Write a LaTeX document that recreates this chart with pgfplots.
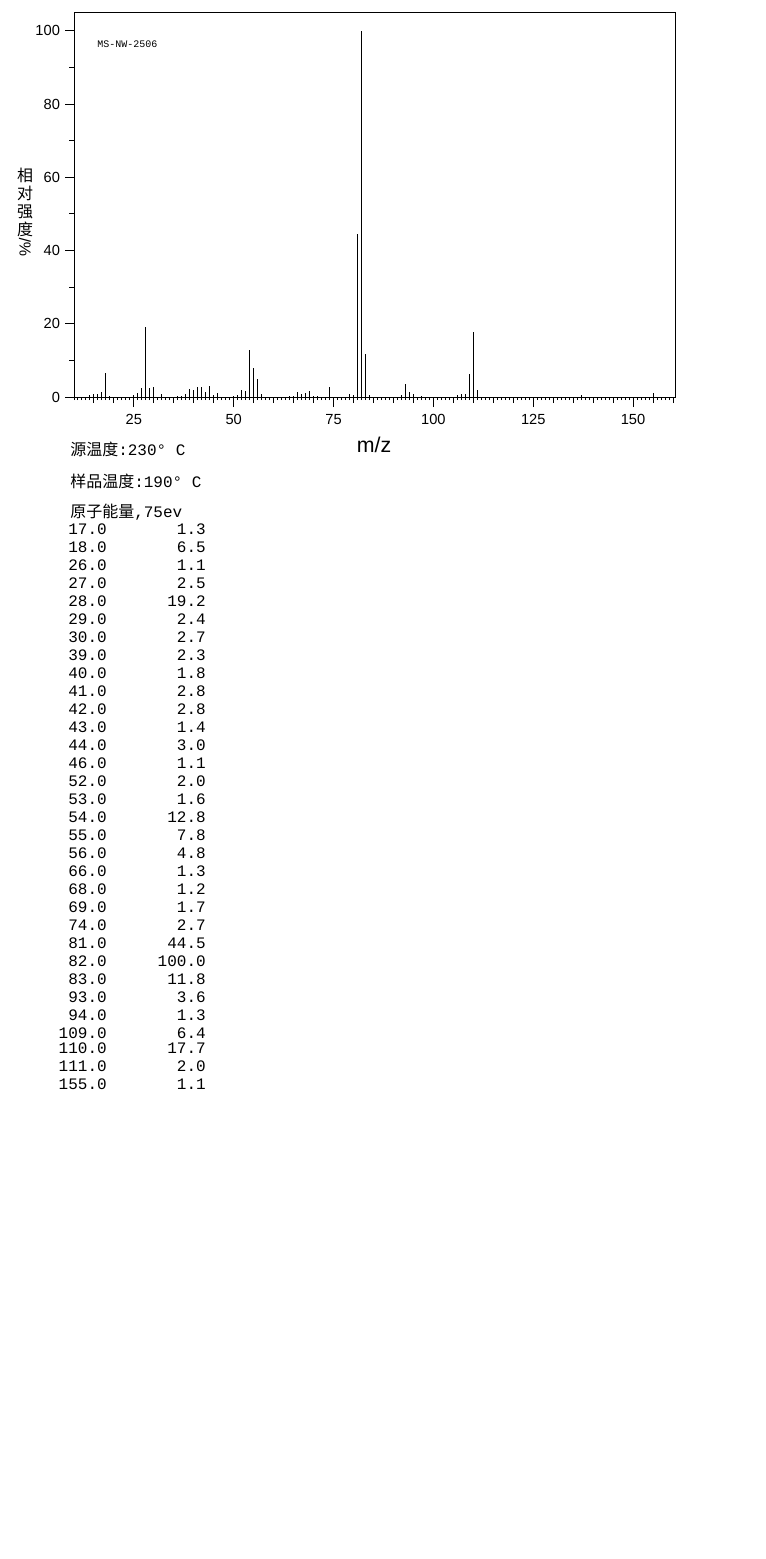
\documentclass[border=0pt]{standalone}
\usepackage{fontspec}
\setmainfont{Liberation Sans}
\setsansfont{Liberation Sans}
\setmonofont{Liberation Mono}
\newfontfamily\cjk{Noto Sans CJK SC}
\usepackage{pgfplots}
\pgfplotsset{compat=1.18}

\pgfplotstableread{
mz   int
14   0.5
15   0.7
16   0.7
17   1.3
18   6.5
19   0.3
25   0.5
26   1.1
27   2.5
28   19.2
29   2.4
30   2.7
32   0.8
36   0.4
37   0.4
38   0.9
39   2.3
40   1.8
41   2.8
42   2.8
43   1.4
44   3.0
45   0.5
46   1.1
50   0.4
51   0.5
52   2.0
53   1.6
54   12.8
55   7.8
56   4.8
57   0.9
64   0.4
65   0.4
66   1.3
67   0.7
68   1.2
69   1.7
70   0.3
71   0.3
74   2.7
79   0.8
80   0.5
81   44.5
82   100.0
83   11.8
84   0.5
92   0.6
93   3.6
94   1.3
95   0.8
97   0.3
106  0.5
107  0.8
108  0.9
109  6.4
110  17.7
111  2.0
137  0.5
155  1.1
}\spectrum

\begin{document}
\begin{tikzpicture}[x=0.75pt,y=0.75pt]
\path (0,0) rectangle (765,-1559);
\begin{axis}[
    at={(55.5pt,-297.75pt)}, anchor=south west,
    width=450.75pt, height=288pt, scale only axis,
    xmin=10, xmax=160.5, ymin=0, ymax=104.9,
    axis line style={line width=0.75pt},
    tick align=outside,
    xtick pos=bottom, ytick pos=left,
    major tick length=4.5pt,
    minor tick length=2.25pt,
    % multiples of 5: medium ticks, no labels
    xtick={15,20,...,160},
    xticklabels={},
    minor xtick={10,...,160},
    % multiples of 25: long ticks with labels
    extra x ticks={25,50,...,150},
    extra x tick labels={25,50,75,100,125,150},
    extra x tick style={/pgfplots/major tick length=7.5pt},
    ytick={0,20,...,100},
    minor ytick={10,30,50,70,90},
    x tick style={line width=0.75pt, black},
    y tick style={line width=0.75pt, black, /pgfplots/major tick length=6.75pt, /pgfplots/minor tick length=3.75pt},
    ticklabel style={font=\sffamily\fontsize{11}{13}\selectfont},
    xticklabel style={yshift=-2.25pt},
    yticklabel style={xshift=-2.5pt},
    /pgf/number format/assume math mode=true,
    ]
\addplot[ycomb, black, line width=0.75pt, mark=none] table[x=mz, y=int] {\spectrum};
\end{axis}

\node[anchor=west, inner sep=0] at (97,-44) {\ttfamily\fontsize{7.5}{9}\selectfont MS-NW-2506};
\node[align=center, inner sep=0, font=\fontsize{12}{13.5}\selectfont] at (25,-212)
  {{\cjk 相}\\{\cjk 对}\\{\cjk 强}\\{\cjk 度}\\\rotatebox{90}{\%/}};
\node[inner sep=0] at (374,-445) {\fontsize{16}{18}\selectfont m/z};

\begin{scope}[every node/.style={anchor=west, inner sep=0, font=\fontsize{12}{14}\selectfont}]
\node at (70,-449) {{\cjk 源温度}\texttt{:230° C}};
\node at (70,-481) {{\cjk 样品温度}\texttt{:190° C}};
\node at (70,-512) {{\cjk 原子能量}\texttt{,75ev}};
\end{scope}

\begin{scope}[every node/.style={anchor=east, inner sep=0, font=\ttfamily\fontsize{12}{14}\selectfont}]
\foreach \m/\v/\y in {17.0/1.3/529, 18.0/6.5/547, 26.0/1.1/565, 27.0/2.5/583,
    28.0/19.2/601, 29.0/2.4/619, 30.0/2.7/637, 39.0/2.3/655, 40.0/1.8/673,
    41.0/2.8/691, 42.0/2.8/709, 43.0/1.4/727, 44.0/3.0/745, 46.0/1.1/763,
    52.0/2.0/781, 53.0/1.6/799, 54.0/12.8/817, 55.0/7.8/835, 56.0/4.8/853,
    66.0/1.3/871, 68.0/1.2/889, 69.0/1.7/907, 74.0/2.7/925, 81.0/44.5/943,
    82.0/100.0/961, 83.0/11.8/979, 93.0/3.6/997, 94.0/1.3/1015,
    109.0/6.4/1033, 110.0/17.7/1048, 111.0/2.0/1066, 155.0/1.1/1084}{
  \node at (107,-\y) {\m};
  \node at (206,-\y) {\v};
}
\end{scope}
\end{tikzpicture}
\end{document}
